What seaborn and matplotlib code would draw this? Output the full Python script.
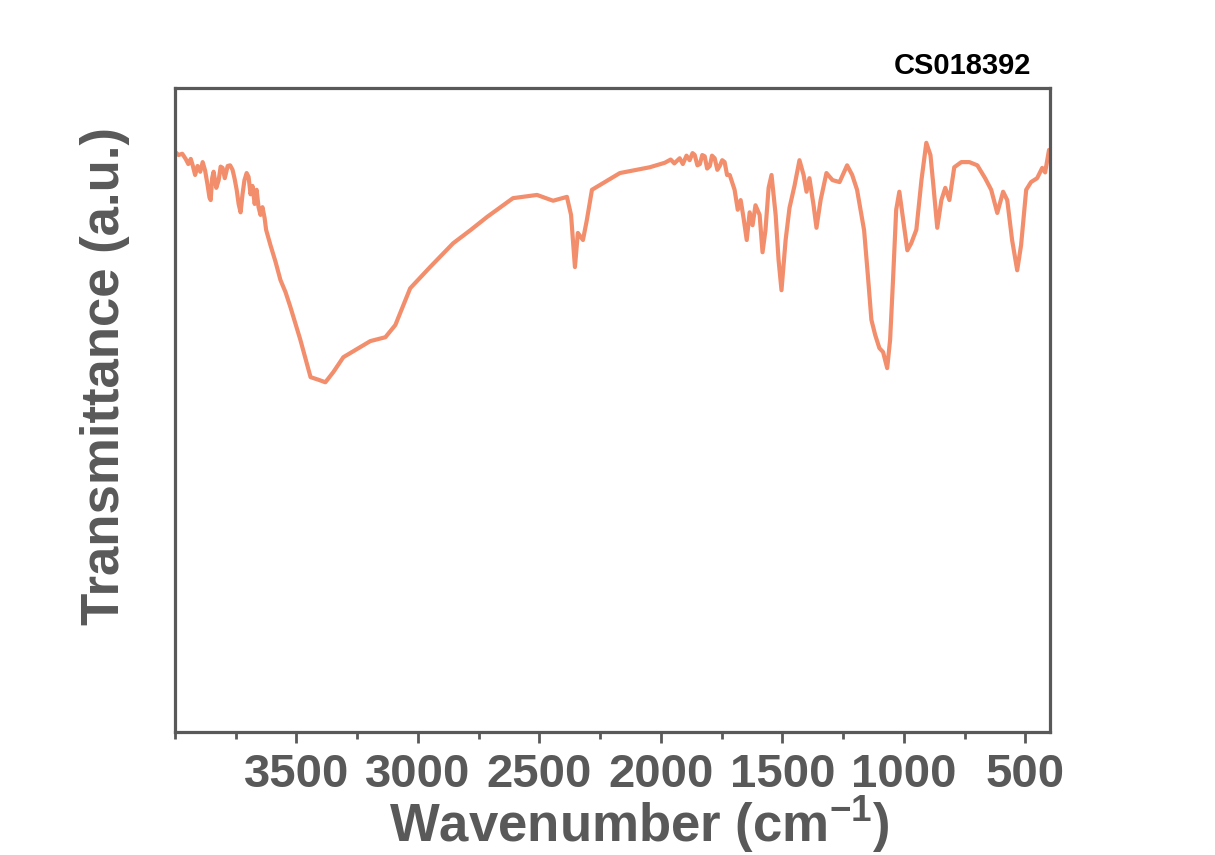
import numpy as np
import pandas as pd
import seaborn as sns
import matplotlib.pyplot as plt
from matplotlib.ticker import MultipleLocator

# FTIR spectrum
wavenumber = [
    4000, 3985, 3970, 3956, 3945, 3935, 3927, 3917, 3907, 3896,
    3886, 3876, 3866, 3858, 3853, 3847, 3841, 3830, 3820, 3812,
    3804, 3795, 3783, 3773, 3763, 3755, 3746, 3738, 3730, 3722,
    3714, 3705, 3697, 3689, 3681, 3672, 3664, 3656, 3648, 3640,
    3631, 3625, 3619, 3607, 3586, 3566, 3545, 3525, 3484, 3442,
    3410, 3381, 3348, 3307, 3258, 3196, 3134, 3093, 3032, 2950,
    2855, 2785, 2715, 2609, 2510, 2444, 2387, 2370, 2354, 2342,
    2321, 2305, 2284, 2231, 2169, 2046, 1984, 1960, 1945, 1923,
    1910, 1895, 1882, 1870, 1861, 1850, 1840, 1830, 1820, 1810,
    1799, 1790, 1779, 1768, 1758, 1748, 1738, 1728, 1717, 1697,
    1684, 1672, 1660, 1647, 1635, 1623, 1611, 1594, 1582, 1570,
    1557, 1545, 1528, 1516, 1504, 1487, 1471, 1450, 1430, 1413,
    1401, 1389, 1372, 1360, 1343, 1319, 1294, 1265, 1234, 1213,
    1193, 1164, 1147, 1134, 1118, 1101, 1086, 1069, 1057, 1045,
    1032, 1019, 1003, 986, 970, 949, 928, 908, 891, 879,
    863, 846, 830, 813, 793, 764, 731, 698, 666, 641,
    616, 592, 575, 555, 534, 518, 497, 477, 452, 431,
    419, 403,
]
transmittance = [
    90.1, 89.6, 89.8, 89.0, 88.2, 89.0, 88.0, 86.5, 87.9, 87.0,
    88.5, 87.2, 85.0, 83.0, 82.6, 86.0, 87.0, 84.5, 85.7, 87.8,
    87.6, 86.0, 87.9, 88.0, 87.3, 86.0, 84.2, 82.0, 80.7, 83.5,
    85.7, 86.8, 86.2, 83.5, 84.8, 82.0, 84.2, 81.5, 80.3, 81.5,
    79.8, 78.0, 77.2, 75.6, 73.0, 70.2, 68.3, 66.0, 60.9, 55.1,
    54.7, 54.3, 55.9, 58.2, 59.3, 60.7, 61.3, 63.2, 68.9, 72.2,
    75.9, 77.9, 80.0, 82.9, 83.4, 82.5, 83.1, 80.3, 72.2, 77.5,
    76.4, 79.5, 84.2, 85.4, 86.8, 87.7, 88.4, 88.9, 88.3, 89.1,
    88.2, 89.5, 88.8, 89.9, 89.6, 88.0, 88.2, 89.6, 89.4, 87.5,
    87.9, 89.5, 89.1, 87.3, 87.9, 88.8, 88.5, 86.5, 86.5, 84.2,
    81.1, 82.6, 79.8, 76.4, 80.7, 78.7, 81.8, 80.3, 74.5, 77.9,
    84.5, 86.5, 80.3, 73.3, 68.6, 76.4, 81.4, 84.9, 88.8, 86.5,
    83.9, 86.0, 81.8, 78.3, 82.6, 86.8, 85.7, 85.4, 88.0, 86.5,
    84.2, 77.9, 70.2, 64.0, 61.6, 59.6, 59.0, 56.5, 60.9, 70.2,
    81.1, 83.9, 79.5, 74.8, 75.9, 78.0, 85.7, 91.5, 89.6, 84.9,
    78.3, 82.6, 84.5, 82.6, 87.7, 88.5, 88.5, 88.0, 86.0, 84.2,
    80.6, 83.9, 82.6, 76.4, 71.7, 75.6, 84.2, 85.4, 86.0, 87.6,
    86.9, 90.4,
]
x_ticks = [3500, 3000, 2500, 2000, 1500, 1000, 500]
sample_id = "CS018392"

df = pd.DataFrame({"wn": wavenumber, "T": transmittance})

sns.set_theme(style="white")
plt.rcParams["font.family"] = ["Liberation Sans", "DejaVu Sans"]
plt.rcParams["font.weight"] = "bold"

gray = "#595959"
fig = plt.figure(figsize=(12.15, 8.55), dpi=100)
ax = fig.add_axes([0.144, 0.144, 0.720, 0.753])

sns.lineplot(data=df, x="wn", y="T", sort=False, estimator=None,
             color="#F28E6C", linewidth=3.0, ax=ax)

ax.set_xlim(4000, 400)
ax.set_ylim(0, 100)
ax.set_xticks(x_ticks)
ax.xaxis.set_minor_locator(MultipleLocator(250))
ax.set_yticks([])

for s in ax.spines.values():
    s.set_color(gray)
    s.set_linewidth(2.3)

ax.tick_params(axis="x", which="major", direction="out", length=8, width=2,
               color=gray, labelsize=34, labelcolor=gray, pad=7, bottom=True)
ax.tick_params(axis="x", which="minor", direction="out", length=5, width=2,
               color=gray, bottom=True)
for lab in ax.get_xticklabels():
    lab.set_fontweight("bold")

ax.set_xlabel("Wavenumber (cm$^{\\mathregular{-1}}$)", fontsize=38,
              fontweight="bold", color=gray)
ax.xaxis.set_label_coords(0.531, -0.144)
ax.xaxis.label.set_va("center")
ax.set_ylabel("Transmittance (a.u.)", fontsize=38, fontweight="bold", color=gray)
ax.yaxis.set_label_coords(-0.08, 0.553)
ax.yaxis.label.set_va("center")

fig.text(0.792, 0.923, sample_id, ha="center", va="center",
         fontsize=21, fontweight="bold", color="black")

fig.savefig("out.png", dpi=100)
